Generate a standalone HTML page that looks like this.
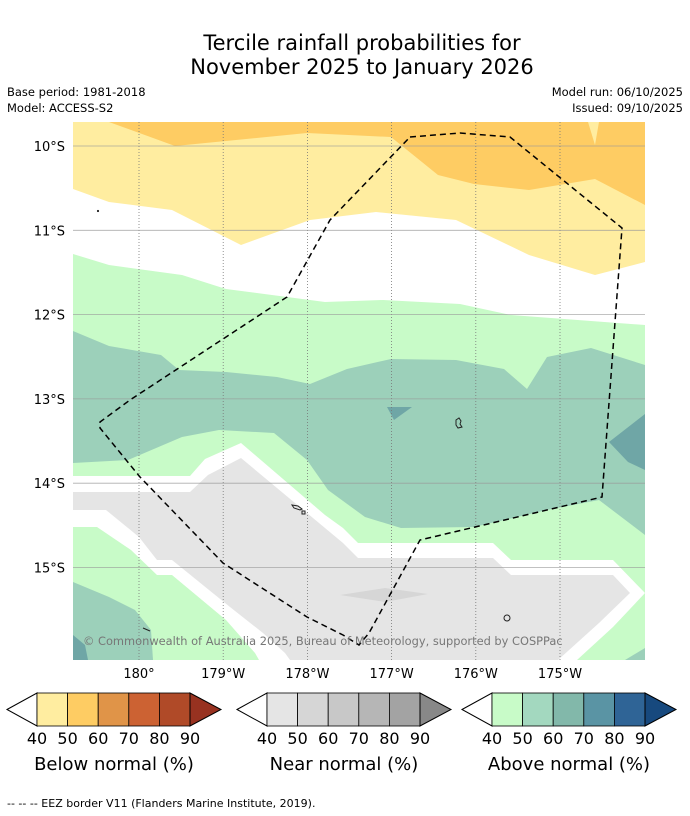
<!DOCTYPE html>
<html><head><meta charset="utf-8"><style>
body{margin:0;width:690px;height:816px;background:#fff;font-family:"Liberation Sans","DejaVu Sans",sans-serif;overflow:hidden}
svg{position:absolute;left:0;top:0}
</style></head><body>
<svg id="s" width="690" height="816" font-family="DejaVu Sans, Liberation Sans, sans-serif">
<text x="362" y="50" font-size="21" text-anchor="middle">Tercile rainfall probabilities for</text>
<text x="362" y="74" font-size="21" text-anchor="middle">November 2025 to January 2026</text>
<text x="7" y="96" font-size="11.5">Base period: 1981-2018</text>
<text x="7" y="112" font-size="11.5">Model: ACCESS-S2</text>
<text x="683" y="96" font-size="11.5" text-anchor="end">Model run: 06/10/2025</text>
<text x="683" y="112" font-size="11.5" text-anchor="end">Issued: 09/10/2025</text>
<defs><clipPath id="mc"><rect x="73" y="122" width="572" height="538"/></clipPath></defs>
<g id="map" clip-path="url(#mc)">
<rect x="73" y="122" width="572" height="538" fill="#fff"/>
<polygon fill="#ffeda0" points="73,122 645,122 645,262 595,275 529,255 456,220 376,212 310,220 241,245 172,210 109,202 73,189"/>
<polygon fill="#fecc63" points="109,122 645,122 645,205 595,179 529,190 474,184 438,175 391,137 307,133 175,146"/>
<polygon fill="#ffeda0" points="588,122 595,145 599,122"/>
<polygon fill="#c8fbc8" points="73,254 109,265 182,275 226,289 325,302 383,300 460,304 511,315 645,325 645,660 73,660"/>
<polygon fill="#9cd0ba" points="73,331 109,346 161,355 179,370 226,372 277,377 310,384 347,369 391,359 456,360 504,369 527,389 547,357 591,348 645,365 645,535 599,500 547,510 474,527 401,528 365,517 328,490 307,460 274,433 219,430 182,437 128,460 73,463"/>
<polygon fill="#6fa6a6" points="609,442 645,414 645,470 628,462"/>
<polygon fill="#6fa6a6" points="387,407 412,407 394,420"/>
<polygon fill="#fff" points="73,476 190,476 205,459 241,443 325,515 343,528 358,543 493,543 511,560 613,560 645,593 613,627 577,660 259,660 255,653 226,620 172,575 157,575 131,550 97,527 73,527"/>
<polygon fill="#e5e5e5" points="73,492 190,492 208,475 241,458 325,528 343,543 358,558 493,558 511,575 613,575 630,593 599,623 558,660 290,660 285,653 263,633 230,607 172,560 157,560 139,537 106,510 73,510"/>
<polygon fill="#d6d6d6" points="340,595 385,588 428,594 385,602"/>
<polygon fill="#9cd0ba" points="73,582 109,597 135,610 151,630 153,660 73,660"/>
<polygon fill="#6fa6a6" points="73,635 85,645 88,660 73,660"/>
<polygon fill="#9cd0ba" points="625,660 645,648 645,660"/>
<g id="grid"></g>
<g fill="none" stroke="#222" stroke-width="1">
<path d="M456,420 l3,-2 2,3 -1,3 2,3 -4,1 -2,-3z"/>
<path d="M292,505 l6,1 4,3 -2,1 -6,-2z M302,511 l3,0 0,3 -3,0z"/>
<circle cx="507" cy="618" r="3"/>
<path d="M143,628 l7,3"/>
<circle cx="98" cy="211" r="0.6" fill="#222"/>
</g>
<polyline fill="none" stroke="#000" stroke-width="1.5" stroke-dasharray="6,4" points="410,137 460,133 510,137 622,228 602,497 420,540 369,633 359,645 343,635 307,617 223,563 140,477 100,428 100,422 130,400 287,297 330,220 410,137"/>
<text x="83" y="645" font-size="11.4" fill="#777">© Commonwealth of Australia 2025, Bureau of Meteorology, supported by COSPPac</text>
</g>
<g id="axes"></g>
<g id="cbars"></g>
<text x="7" y="807" font-size="11">--  --  -- EEZ border V11 (Flanders Marine Institute, 2019).</text>
</svg>
<script>
const lonTicks=[180,181,182,183,184,185];
const lonLabels=["180°","179°W","178°W","177°W","176°W","175°W"];
const latTicks=[10,11,12,13,14,15];
const latLabels=["10°S","11°S","12°S","13°S","14°S","15°S"];
const levelLabels=["40","50","60","70","80","90"];
const belowColors=["#ffeda0","#fecc63","#e09448","#cc6233","#b04a28","#983220"];
const nearColors=["#e5e5e5","#d6d6d6","#c8c8c8","#b6b6b6","#a3a3a3","#888888"];
const aboveColors=["#c8fbc8","#a3d8bf","#82b8aa","#5a94a4","#2f6496","#17497e"];
const cbTitles=["Below normal (%)","Near normal (%)","Above normal (%)"];
const NS="http://www.w3.org/2000/svg";
const xOf=l=>139+(l-180)*84.2, yOf=l=>146+(l-10)*84.3;
function mk(t,a,p){const e=document.createElementNS(NS,t);for(const k in a)e.setAttribute(k,a[k]);p.appendChild(e);return e;}
const grid=document.getElementById('grid'),axes=document.getElementById('axes');
lonTicks.forEach((l,i)=>{const x=xOf(l);
 const g=mk('line',{x1:x,x2:x,y1:122,y2:660,stroke:'#777','stroke-width':0.8,'stroke-dasharray':'1,2'},grid);
 
 
 const t=mk('text',{x:x,y:678,'font-size':13,'text-anchor':'middle'},axes);t.textContent=lonLabels[i];
 
 
});
latTicks.forEach((l,i)=>{const y=yOf(l);
 const g=mk('line',{x1:73,x2:645,y1:y,y2:y,stroke:'#999','stroke-width':0.8,opacity:0.8},grid);
 
 
 const t=mk('text',{x:65,y:y+5,'font-size':13,'text-anchor':'end'},axes);t.textContent=latLabels[i];
 
 
});
const cb=document.getElementById('cbars');
[[7,belowColors],[237,nearColors],[462,aboveColors]].forEach(([x0,cols],k)=>{
 const y0=693,h=33,tw=30,bw=30.6;
 const lt=mk('polygon',{points:`${x0},${y0+h/2} ${x0+tw},${y0} ${x0+tw},${y0+h}`,fill:'#fff',stroke:'#000','stroke-width':1},cb);
 
 
 for(let i=0;i<5;i++){const r=mk('rect',{x:x0+tw+i*bw,y:y0,width:bw,height:h,fill:cols[i],stroke:'#000','stroke-width':0.8},cb);
  
  }
 const xe=x0+tw+5*bw;
 const rt=mk('polygon',{points:`${xe},${y0} ${xe+31},${y0+h/2} ${xe},${y0+h}`,fill:cols[5],stroke:'#000','stroke-width':1},cb);
 
 
 levelLabels.forEach((s,i)=>{const t=mk('text',{x:x0+tw+i*bw,y:744,'font-size':16,'text-anchor':'middle'},cb);t.textContent=s;
  
  });
 const t=mk('text',{x:x0+107,y:770,'font-size':18,'text-anchor':'middle'},cb);t.textContent=cbTitles[k];
 
 
});
</script>
</body></html>
